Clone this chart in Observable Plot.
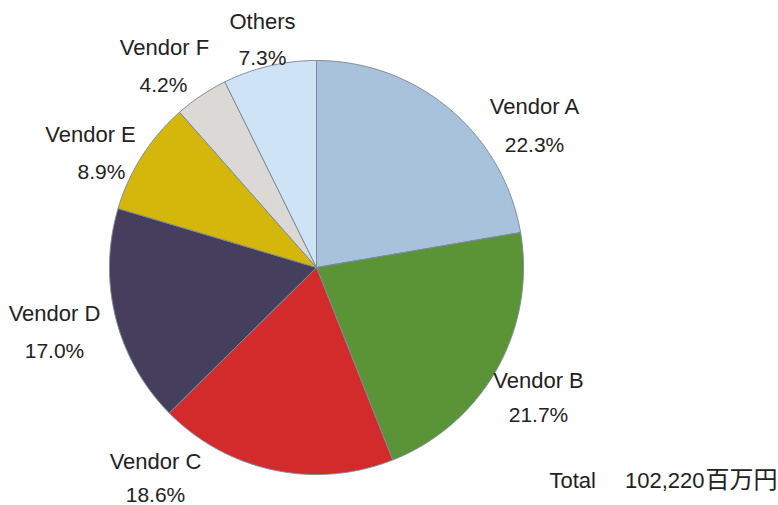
<!DOCTYPE html>
<html>
<head>
<meta charset="utf-8">
<script src="https://cdn.jsdelivr.net/npm/d3@7"></script>
<script src="https://cdn.jsdelivr.net/npm/@observablehq/plot@0.6"></script>
<style>
  html, body { margin: 0; padding: 0; background: #fff; }
  #chart { width: 778px; height: 505px; }
</style>
</head>
<body>
<div id="chart"></div>
<script>
// ---- data ----
const vendors = ["Vendor A", "Vendor B", "Vendor C", "Vendor D", "Vendor E", "Vendor F", "Others"];
const shares = [22.3, 21.7, 18.6, 17.0, 8.9, 4.2, 7.3];
const shareLabels = ["22.3%", "21.7%", "18.6%", "17.0%", "8.9%", "4.2%", "7.3%"];
const sliceColors = ["#a7c2da", "#5a9437", "#d32b2c", "#453f5d", "#d5b60a", "#dad9d5", "#cfe3f6"];
const totalLabel = "Total";
const totalValue = "102,220";
const totalUnit = "百万円";

// ---- layout ----
const W = 778, H = 505;
const cx = 316, cy = 267, R = 207;
// label anchor positions (name line, percent line) in pixels
const labelNameX = [534, 538, 155, 54, 90, 164, 262];
const labelNameY = [106, 380, 461, 313, 134, 47, 21];
const labelPctX  = [534, 538, 155, 54, 101, 163, 262];
const labelPctY  = [145, 415, 495, 351, 172, 85, 58];

// build slice polygons from shares (clockwise from 12 o'clock)
const total = d3.sum(shares);
const pts = [];
let cum = 0;
vendors.forEach((v, i) => {
  const a0 = cum / total * 2 * Math.PI;
  cum += shares[i];
  const a1 = cum / total * 2 * Math.PI;
  pts.push({name: v, x: cx, y: cy});
  const n = Math.max(2, Math.ceil((a1 - a0) / (Math.PI / 360)));
  for (let k = 0; k <= n; k++) {
    const a = a0 + (a1 - a0) * k / n;
    pts.push({name: v, x: cx + R * Math.sin(a), y: cy - R * Math.cos(a)});
  }
  pts.push({name: v, x: cx, y: cy});
});

const nameLabels = vendors.map((v, i) => ({x: labelNameX[i], y: labelNameY[i], t: v}));
const pctLabels = shareLabels.map((s, i) => ({x: labelPctX[i], y: labelPctY[i], t: s}));

const chart = Plot.plot({
  width: W,
  height: H,
  margin: 0,
  x: {domain: [0, W], range: [0, W], axis: null},
  y: {domain: [0, H], range: [0, H], axis: null},
  color: {domain: vendors, range: sliceColors},
  style: {fontFamily: "'Liberation Sans', Arial, sans-serif", background: "#fff"},
  marks: [
    Plot.line(pts, {x: "x", y: "y", z: "name", fill: "name", stroke: "#7d8b98", strokeWidth: 1, curve: "linear"}),
    Plot.text(nameLabels, {x: "x", y: "y", text: "t", fontSize: 22, fill: "#222", textAnchor: "middle", style: "letter-spacing:0.3px"}),
    Plot.text(pctLabels, {x: "x", y: "y", text: "t", fontSize: 21, fill: "#222", textAnchor: "middle"}),
    Plot.text([totalLabel], {x: () => 549, y: () => 480, text: d => d, fontSize: 22, fill: "#222", textAnchor: "start", style: "letter-spacing:0.5px"}),
    Plot.text([totalValue], {x: () => 704, y: () => 480, text: d => d, fontSize: 22, fill: "#222", textAnchor: "end"}),
    Plot.text([totalUnit], {x: () => 777, y: () => 480, text: d => d, fontSize: 24, fill: "#222", textAnchor: "end", fontFamily: "'Noto Sans CJK JP', sans-serif"})
  ]
});
document.getElementById("chart").appendChild(chart);
</script>
</body>
</html>
